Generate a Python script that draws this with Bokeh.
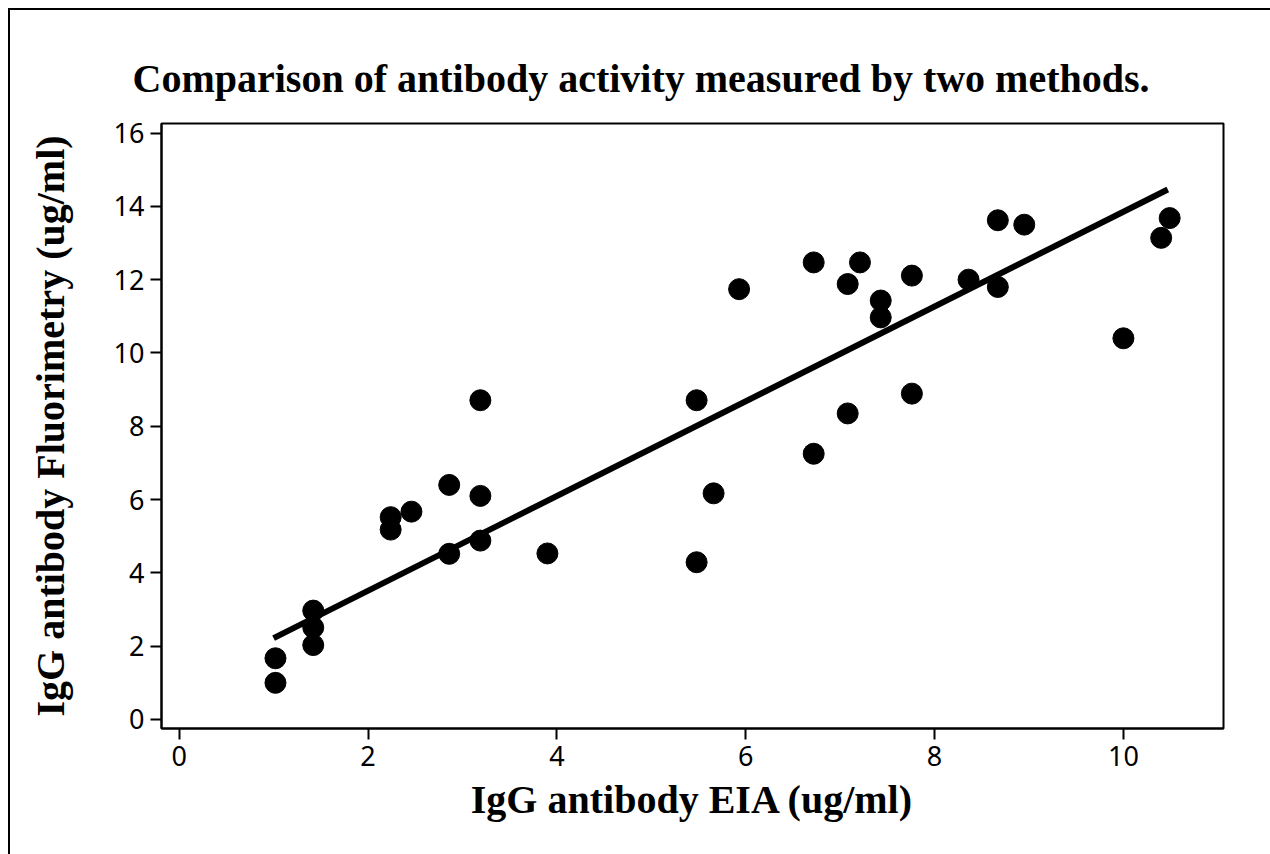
from bokeh.plotting import figure
from bokeh.models import Range1d, FixedTicker
from bokeh.embed import file_html
from bokeh.resources import INLINE

# Data
eia = [1.02, 1.02, 1.42, 1.42, 1.42, 2.24, 2.24, 2.46, 2.86, 2.86,
       3.19, 3.19, 3.19, 3.90, 5.48, 5.48, 5.66, 5.93, 6.72, 6.72,
       7.08, 7.08, 7.21, 7.43, 7.43, 7.76, 7.76, 8.36, 8.67, 8.67,
       8.95, 10.00, 10.40, 10.49]
fluor = [1.00, 1.67, 2.97, 2.51, 2.03, 5.52, 5.18, 5.67, 6.40, 4.52,
         8.71, 6.10, 4.88, 4.53, 8.71, 4.29, 6.17, 11.74, 12.47, 7.25,
         11.88, 8.35, 12.47, 11.43, 10.97, 12.11, 8.89, 12.00, 13.62, 11.80,
         13.50, 10.40, 13.14, 13.68]

# Fitted regression line endpoints
fit_x = [1.00, 10.47]
fit_y = [2.22, 14.46]

x_ticks = [0, 2, 4, 6, 8, 10]
y_ticks = [0, 2, 4, 6, 8, 10, 12, 14, 16]

title_text = "Comparison of antibody activity measured by two methods."
x_label = "IgG antibody EIA (ug/ml)"
y_label = "IgG antibody Fluorimetry (ug/ml)"

p = figure(width=1262, height=846, output_backend="svg", toolbar_location=None,
           x_range=Range1d(-0.187, 11.06), y_range=Range1d(-0.246, 16.26),
           min_border_left=151, min_border_right=49, min_border_top=113,
           min_border_bottom=128)

p.styles = {"margin-top": "8px", "margin-left": "8px",
            "border-top": "2px solid black", "border-left": "2px solid black"}

p.title.text = title_text
p.title.text_font = "Liberation Serif"
p.title.text_font_style = "bold"
p.title.text_font_size = "40px"
p.title.text_color = "black"
p.title.align = "left"
p.title.offset = -29
p.title.standoff = 46

p.grid.visible = False
p.outline_line_color = "black"
p.outline_line_width = 2
p.background_fill_color = "white"
p.border_fill_color = "white"

for ax in (p.xaxis[0], p.yaxis[0]):
    ax.axis_line_width = 2
    ax.axis_line_color = "black"
    ax.major_tick_line_width = 2
    ax.major_tick_line_color = "black"
    ax.major_tick_out = 11
    ax.major_tick_in = 0
    ax.minor_tick_out = 0
    ax.minor_tick_in = 0
    ax.major_label_text_font = "Noto Sans"
    ax.major_label_text_font_size = "27px"
    ax.major_label_text_color = "black"
    ax.axis_label_text_font = "Liberation Serif"
    ax.axis_label_text_font_style = "bold"
    ax.axis_label_text_font_size = "40px"
    ax.axis_label_text_color = "black"

p.xaxis[0].ticker = FixedTicker(ticks=x_ticks)
p.yaxis[0].ticker = FixedTicker(ticks=y_ticks)
p.xaxis[0].axis_label = x_label
p.yaxis[0].axis_label = y_label
p.xaxis[0].major_label_standoff = 6
p.yaxis[0].major_label_standoff = 6
p.xaxis[0].axis_label_standoff = 8
p.yaxis[0].axis_label_standoff = 38

p.line(fit_x, fit_y, line_width=6, line_color="black")
p.scatter(eia, fluor, size=21, fill_color="black", line_color="black")

open("out.html", "w").write(file_html(p, INLINE))
